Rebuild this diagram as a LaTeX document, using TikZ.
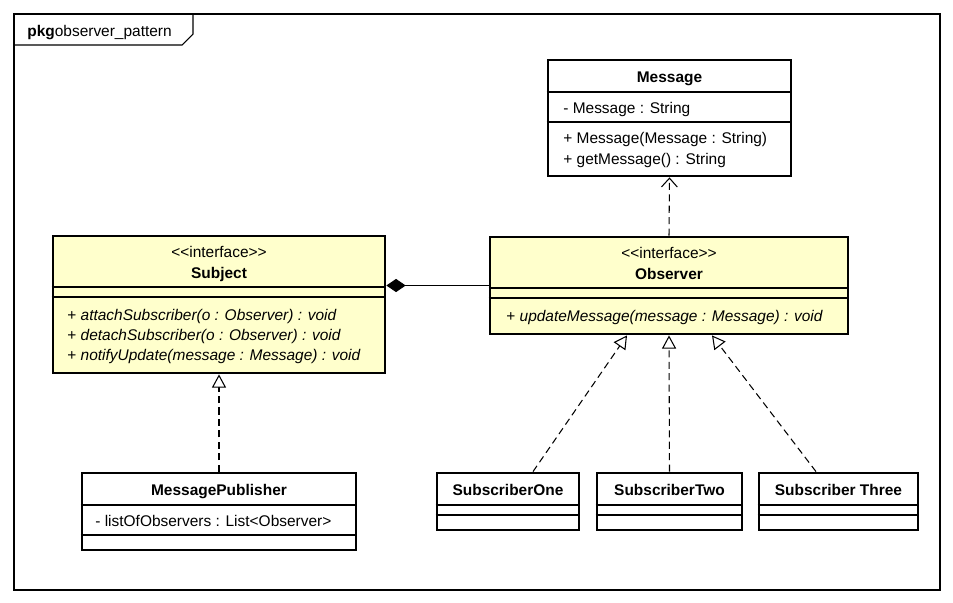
\documentclass[tikz,border=0pt]{standalone}
\usepackage{fontspec}
\setmainfont{Liberation Sans}[Ligatures=TeXOff]
\usetikzlibrary{arrows.meta}
\definecolor{ifacefill}{HTML}{FFFFCC}
\tikzset{
	classbox/.style={draw, line width=1.6pt, fill=white, inner sep=0pt},
	ifacebox/.style={classbox, fill=ifacefill},
	txt/.style={inner sep=0pt, font=\fontsize{8.8}{10}\selectfont, text height=8.6pt, text depth=1.9pt},
	ttl/.style={txt, font=\fontsize{8.8}{10}\selectfont\bfseries},
	mbr/.style={txt, anchor=west},
	sep/.style={line width=0.7pt},
	dep/.style={line width=0.6pt, dash pattern=on 4pt off 2.5pt, -{Straight Barb[length=5pt, width=9pt]}},
	real/.style={line width=0.6pt, dash pattern=on 4pt off 2.5pt, -{Triangle[open, length=7.5pt, width=8pt, fill=white]}},
	comp/.style={line width=0.6pt, {Diamond[length=11pt, width=7.5pt]}-}
}
\begin{document}
\begin{tikzpicture}[x=0.02cm, y=-0.02cm]
	\useasboundingbox (0,0) rectangle (953,602);
	%package frame
	\draw[line width=0.6pt] (14,14) rectangle (940,590);
	\draw[line width=0.6pt] (14,45) -- (182,45) -- (193,34) -- (193,14);
	\node[mbr] (pkglbl) at (27,31) {\textbf{pkg}observer\_pattern};
	
	%Message
	\node[classbox, minimum width=4.86cm, minimum height=2.32cm] (msg) at (669.5,118) {};
	\node[ttl] (msgname) at (669.5,77) {Message};
	\draw[sep] (msg.west |- 0,92) -- (msg.east |- 0,92);
	\node[mbr] (msgattr) at (563,108) {- Message : String};
	\draw[sep] (msg.west |- 0,122) -- (msg.east |- 0,122);
	\node[mbr] (msgop1) at (563,138) {+ Message(Message : String)};
	\node[mbr] (msgop2) at (563,159) {+ getMessage() : String};
	
	%Subject
	\node[ifacebox, minimum width=6.64cm, minimum height=2.74cm] (subj) at (219,304.5) {};
	\node[txt] (subjst) at (219,252) {<<interface>>};
	\node[ttl] (subjname) at (219,273) {Subject};
	\draw[sep] (subj.west |- 0,287) -- (subj.east |- 0,287);
	\draw[sep] (subj.west |- 0,297) -- (subj.east |- 0,297);
	\node[mbr] (subjop1) at (67,315) {+ \textit{attachSubscriber(o : Observer) : void}};
	\node[mbr] (subjop2) at (67,335) {+ \textit{detachSubscriber(o : Observer) : void}};
	\node[mbr] (subjop3) at (67,355) {+ \textit{notifyUpdate(message : Message) : void}};
	
	%Observer
	\node[ifacebox, minimum width=7.16cm, minimum height=1.94cm] (obs) at (669,285.5) {};
	\node[txt] (obsst) at (669,253) {<<interface>>};
	\node[ttl] (obsname) at (669,274) {Observer};
	\draw[sep] (obs.west |- 0,288) -- (obs.east |- 0,288);
	\draw[sep] (obs.west |- 0,298) -- (obs.east |- 0,298);
	\node[mbr] (obsop1) at (506,316) {+ \textit{updateMessage(message : Message) : void}};
	
	%MessagePublisher
	\node[classbox, minimum width=5.48cm, minimum height=1.54cm] (pub) at (219,511.5) {};
	\node[ttl] (pubname) at (219,490) {MessagePublisher};
	\draw[sep] (pub.west |- 0,505) -- (pub.east |- 0,505);
	\node[mbr] (pubattr) at (95,521) {- listOfObservers : List<Observer>};
	\draw[sep] (pub.west |- 0,535) -- (pub.east |- 0,535);
	
	%subscribers
	\node[classbox, minimum width=2.84cm, minimum height=1.14cm] (sone) at (508,501.5) {};
	\node[classbox, minimum width=2.9cm, minimum height=1.14cm] (stwo) at (669.5,501.5) {};
	\node[classbox, minimum width=3.18cm, minimum height=1.14cm] (sthree) at (838.5,501.5) {};
	\node[ttl] (sonename) at (508,490) {SubscriberOne};
	\node[ttl] (stwoname) at (669.5,490) {SubscriberTwo};
	\node[ttl] (sthreename) at (838.5,490) {Subscriber Three};
	\foreach \s in {sone, stwo, sthree}{
		\draw[sep] (\s.west |- 0,505) -- (\s.east |- 0,505);
		\draw[sep] (\s.west |- 0,515) -- (\s.east |- 0,515);
	}
	
	%relations
	\draw[dep] (obs.north) -- (msg.south);
	\draw[comp] (subj.east |- obs.west) -- (obs.west);
	\draw[real] (pub.north) -- (subj.south);
	\draw[real] ([xshift=0.5cm]sone.north) -- ([xshift=-0.84cm]obs.south);
	\draw[real] (stwo.north) -- (obs.south);
	\draw[real] ([xshift=-0.45cm]sthree.north) -- ([xshift=0.86cm]obs.south);
\end{tikzpicture}
\end{document}
